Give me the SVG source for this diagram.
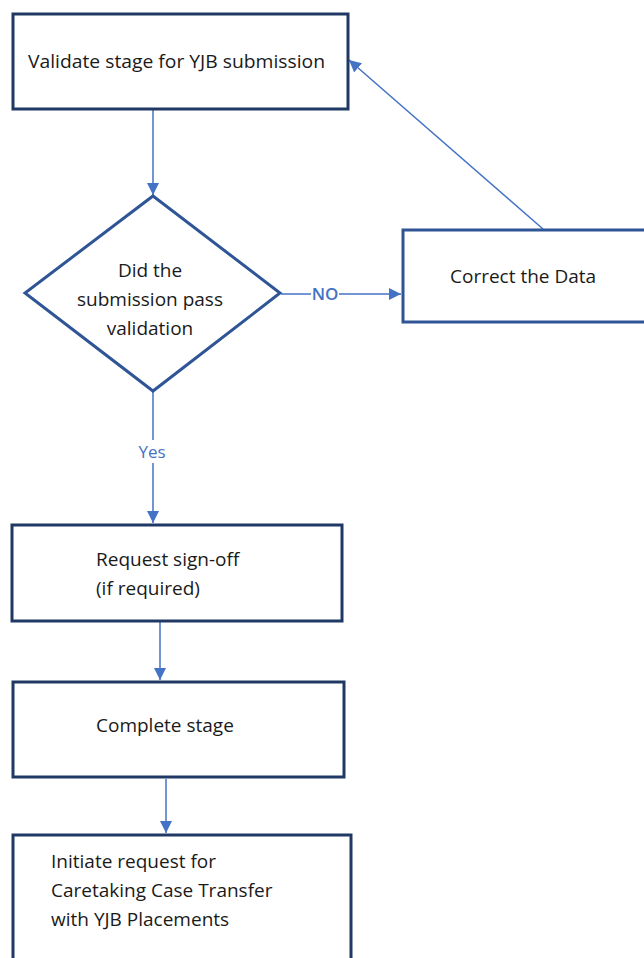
<svg xmlns="http://www.w3.org/2000/svg" width="644" height="958" viewBox="0 0 644 958">
<style>
.box{fill:#fff;stroke:#1f3864;stroke-width:3}
.box2{fill:#fff;stroke:#2f5597;stroke-width:3}
.t{font-family:"Open Sans","Liberation Sans",sans-serif;font-size:19px;fill:#1a1a1a}
.c{fill:none;stroke:#4472c4;stroke-width:1.5}
.lbl{font-family:"Open Sans","Liberation Sans",sans-serif;font-size:17px;fill:#4472c4}
</style>
<defs>
<marker id="ahb" viewBox="0 0 10 10" refX="10" refY="5" markerWidth="12" markerHeight="12" markerUnits="userSpaceOnUse" orient="auto">
<path d="M0,0 L10,5 L0,10 z" fill="#4472c4"/>
</marker>
</defs>
<rect width="644" height="958" fill="#fff"/>
<g id="connectors">
<line class="c" x1="153" y1="110" x2="153" y2="195" marker-end="url(#ahb)"/>
<line class="c" x1="281" y1="294" x2="311" y2="294"/>
<line class="c" x1="339" y1="294" x2="401" y2="294" marker-end="url(#ahb)"/>
<line class="c" x1="543" y1="229" x2="349" y2="60" marker-end="url(#ahb)"/>
<line class="c" x1="153" y1="392" x2="153" y2="440"/>
<line class="c" x1="153" y1="463" x2="153" y2="523" marker-end="url(#ahb)"/>
<line class="c" x1="160" y1="622" x2="160" y2="680" marker-end="url(#ahb)"/>
<line class="c" x1="166" y1="779" x2="166" y2="833" marker-end="url(#ahb)"/>
<text class="lbl" x="325" y="300" text-anchor="middle" font-weight="600">NO</text>
<text class="lbl" x="152" y="458" text-anchor="middle">Yes</text>
</g>
<g id="validate">
<rect class="box" x="13" y="14" width="335" height="95"/>
<text class="t" x="28" y="68" textLength="297" lengthAdjust="spacingAndGlyphs">Validate stage for YJB submission</text>
</g>
<g id="decision">
<polygon class="box2" points="153,196 280,293 153,391 25,293"/>
<text class="t" x="150" y="277" text-anchor="middle">Did the</text>
<text class="t" x="150" y="306" text-anchor="middle">submission pass</text>
<text class="t" x="150" y="335" text-anchor="middle">validation</text>
</g>
<g id="correct">
<rect class="box2" x="403" y="230" width="250" height="92"/>
<text class="t" x="450" y="283">Correct the Data</text>
</g>
<g id="signoff">
<rect class="box" x="12" y="525" width="330" height="96"/>
<text class="t" x="96" y="566">Request sign-off</text>
<text class="t" x="96" y="595">(if required)</text>
</g>
<g id="complete">
<rect class="box" x="13" y="682" width="331" height="95"/>
<text class="t" x="96" y="732">Complete stage</text>
</g>
<g id="initiate">
<rect class="box" x="13" y="835" width="338" height="140"/>
<text class="t" x="51" y="868">Initiate request for</text>
<text class="t" x="51" y="897">Caretaking Case Transfer</text>
<text class="t" x="51" y="926">with YJB Placements</text>
</g>
</svg>
